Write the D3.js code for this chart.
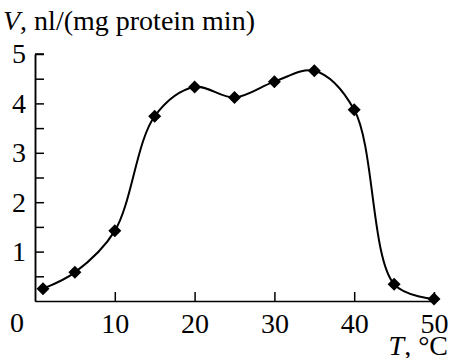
<!DOCTYPE html>
<html>
<head>
<meta charset="utf-8">
<script src="https://cdnjs.cloudflare.com/ajax/libs/d3/7.8.5/d3.min.js"></script>
<style>
  body { margin: 0; background: #fff; }
</style>
</head>
<body>
<div id="container"></div>
<script>
// temperature, degrees C
var temps = [1, 5, 10, 15, 20, 25, 30, 35, 40, 45, 50];
// rate, nl/(mg protein min)
var rates = [0.25, 0.58, 1.42, 3.74, 4.33, 4.12, 4.44, 4.66, 3.87, 0.34, 0.04];
var xTicks = [10, 20, 30, 40, 50];
var yTicks = [1, 2, 3, 4, 5];
var yMinor = [0.5, 1.5, 2.5, 3.5, 4.5];

var serif = "Liberation Serif";
var fs = 28;
var width = 450, height = 358;
var svg = d3.select("#container").append("svg").attr("width", width).attr("height", height)
  .attr("font-family", serif);

var x = d3.scaleLinear().domain([0, 50]).range([35, 434]);
var y = d3.scaleLinear().domain([0, 5]).range([301, 54]);

// axes, ticks pointing inside
var gx = svg.append("g").attr("transform", "translate(0," + y(0) + ")")
  .call(d3.axisBottom(x).tickValues(xTicks).tickSizeInner(-9).tickSizeOuter(0).tickPadding(12).tickFormat(d3.format("d")));
var gy = svg.append("g").attr("transform", "translate(" + x(0) + ",0)")
  .call(d3.axisLeft(y).tickValues(yTicks).tickSizeInner(-9).tickSizeOuter(0).tickPadding(9).tickFormat(d3.format("d")));
svg.append("g").attr("transform", "translate(" + x(0) + ",0)")
  .call(d3.axisLeft(y).tickValues(yMinor).tickSizeInner(-9).tickSizeOuter(0).tickFormat(""));
gx.attr("font-family", serif).attr("font-size", fs);
gy.attr("font-family", serif).attr("font-size", fs);
// tick at top of y axis
svg.append("line").attr("x1", x(0)).attr("x2", x(0) + 9).attr("y1", y(5)).attr("y2", y(5)).attr("stroke", "#000").attr("stroke-width", 1.5);

svg.selectAll(".domain").attr("stroke", "#000").attr("stroke-width", 1.5);
svg.selectAll(".tick line").attr("stroke", "#000").attr("stroke-width", 1.5);
svg.selectAll(".tick text").attr("fill", "#000");

// shared origin label
svg.append("text").attr("x", 17).attr("y", 332).attr("text-anchor", "middle")
  .attr("font-family", serif).attr("font-size", fs).text("0");

// curve
var pts = temps.map(function(t, i) { return [t, rates[i]]; });
var line = d3.line().x(function(d) { return x(d[0]); }).y(function(d) { return y(d[1]); })
  .curve(d3.curveCatmullRom.alpha(0.5));
svg.append("path").datum(pts).attr("d", line).attr("fill", "none").attr("stroke", "#000").attr("stroke-width", 2);

// diamond markers
var r = 6.5;
svg.selectAll(".pt").data(pts).enter().append("path").attr("class", "pt")
  .attr("d", function(d) {
    var cx = x(d[0]), cy = y(d[1]);
    return "M" + cx + "," + (cy - r) + "L" + (cx + r) + "," + cy + "L" + cx + "," + (cy + r) + "L" + (cx - r) + "," + cy + "Z";
  })
  .attr("fill", "#000");

// axis titles
var yt = svg.append("text").attr("x", 3).attr("y", 30).attr("font-family", serif).attr("font-size", fs);
yt.append("tspan").attr("font-style", "italic").text("V");
yt.append("tspan").text(", nl/(mg protein min)");

var xt = svg.append("text").attr("x", 448).attr("y", 355).attr("text-anchor", "end").attr("font-family", serif).attr("font-size", fs);
xt.append("tspan").attr("font-style", "italic").text("T");
xt.append("tspan").text(", °C");
</script>
</body>
</html>
